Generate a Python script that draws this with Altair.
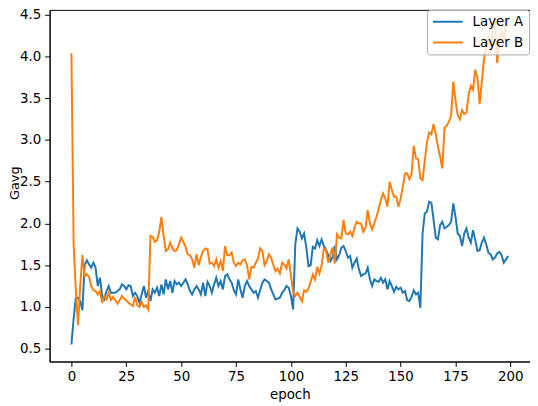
import altair as alt
import pandas as pd

epochs = list(range(200))

layer_a = [
    0.55, 0.86, 1.11, 1.11, 1.07, 0.96, 1.50, 1.56, 1.51, 1.47,
    1.53, 1.47, 1.25, 1.35, 1.13, 1.09, 1.19, 1.25, 1.17, 1.17,
    1.17, 1.19, 1.21, 1.27, 1.25, 1.21, 1.26, 1.25, 1.13, 1.17,
    1.13, 1.05, 1.15, 1.25, 1.11, 1.19, 1.07, 1.21, 1.17, 1.23,
    1.13, 1.27, 1.15, 1.33, 1.21, 1.31, 1.17, 1.31, 1.27, 1.29,
    1.25, 1.29, 1.33, 1.27, 1.19, 1.15, 1.21, 1.25, 1.21, 1.15,
    1.29, 1.13, 1.30, 1.25, 1.17, 1.27, 1.35, 1.25, 1.31, 1.21,
    1.37, 1.39, 1.33, 1.29, 1.20, 1.15, 1.33, 1.21, 1.11, 1.25,
    1.31, 1.25, 1.21, 1.17, 1.19, 1.11, 1.20, 1.29, 1.33, 1.31,
    1.29, 1.21, 1.15, 1.09, 1.10, 1.11, 1.17, 1.20, 1.25, 1.23,
    1.13, 0.97, 1.75, 1.94, 1.90, 1.82, 1.88, 1.72, 1.49, 1.50,
    1.72, 1.70, 1.80, 1.73, 1.81, 1.73, 1.69, 1.62, 1.55, 1.60,
    1.73, 1.57, 1.62, 1.71, 1.73, 1.67, 1.59, 1.61, 1.47, 1.53,
    1.58, 1.45, 1.37, 1.39, 1.40, 1.47, 1.33, 1.25, 1.33, 1.31,
    1.30, 1.35, 1.29, 1.33, 1.21, 1.31, 1.25, 1.18, 1.24, 1.21,
    1.23, 1.17, 1.19, 1.08, 1.07, 1.12, 1.20, 1.15, 1.17, 0.99,
    1.88, 2.12, 2.14, 2.26, 2.25, 2.05, 1.83, 1.81, 1.98, 2.02,
    1.94, 1.96, 1.98, 2.02, 2.24, 2.08, 1.88, 1.85, 1.73, 1.88,
    1.94, 1.83, 1.77, 1.92, 1.80, 1.67, 1.68, 1.77, 1.83, 1.75,
    1.65, 1.63, 1.57, 1.59, 1.64, 1.66, 1.62, 1.53, 1.57, 1.61,
]

layer_b = [
    4.04, 1.75, 1.20, 0.78, 1.25, 1.62, 1.37, 1.39, 1.36, 1.25,
    1.20, 1.19, 1.15, 1.19, 1.05, 1.13, 1.09, 1.17, 1.08, 1.12,
    1.08, 1.04, 1.08, 1.13, 1.10, 1.08, 1.05, 1.03, 1.01, 1.12,
    1.02, 1.00, 1.06, 1.00, 1.02, 0.97, 1.85, 1.84, 1.78, 1.80,
    1.90, 2.08, 1.85, 1.67, 1.69, 1.77, 1.70, 1.67, 1.68, 1.75,
    1.83, 1.78, 1.72, 1.63, 1.62, 1.57, 1.47, 1.63, 1.50, 1.60,
    1.67, 1.70, 1.69, 1.52, 1.53, 1.49, 1.57, 1.47, 1.55, 1.43,
    1.73, 1.62, 1.62, 1.65, 1.53, 1.49, 1.53, 1.51, 1.56, 1.57,
    1.50, 1.33, 1.48, 1.47, 1.53, 1.58, 1.70, 1.67, 1.50, 1.55,
    1.63, 1.59, 1.50, 1.43, 1.46, 1.40, 1.53, 1.51, 1.46, 1.57,
    1.38, 1.18, 1.13, 1.17, 1.12, 1.07, 1.20, 1.18, 1.22, 1.30,
    1.39, 1.33, 1.48, 1.40, 1.50, 1.70, 1.68, 1.53, 1.63, 1.71,
    1.52, 1.87, 1.83, 1.82, 2.04, 1.88, 1.87, 1.90, 1.85, 1.95,
    2.02, 2.00, 2.00, 1.90, 1.95, 2.16, 2.00, 1.93, 2.00, 2.08,
    2.18, 2.28, 2.36, 2.30, 2.20, 2.50, 2.40, 2.32, 2.32, 2.20,
    2.30, 2.44, 2.60, 2.60, 2.53, 2.60, 2.93, 2.78, 2.77, 2.54,
    2.52, 2.75, 2.97, 3.09, 3.07, 3.19, 3.07, 2.92, 2.80, 2.66,
    3.15, 3.17, 3.22, 3.29, 3.70, 3.47, 3.30, 3.25, 3.36, 3.31,
    3.33, 3.55, 3.65, 3.60, 3.84, 3.75, 3.43, 3.70, 3.98, 4.10,
    4.25, 4.05, 4.35, 4.46, 3.92, 4.20, 4.30, 4.20, 4.40, 4.35,
]

series_names = ["Layer A", "Layer B"]
series_colors = ["#1f77b4", "#ff7f0e"]
x_ticks = [0, 25, 50, 75, 100, 125, 150, 175, 200]
y_ticks = [0.5, 1.0, 1.5, 2.0, 2.5, 3.0, 3.5, 4.0, 4.5]

df = pd.DataFrame({
    "epoch": epochs + epochs,
    "Gavg": layer_a + layer_b,
    "series": [series_names[0]] * len(epochs) + [series_names[1]] * len(epochs),
})

FONT = "DejaVu Sans"
FS = 13.5

chart = alt.Chart(df).mark_line(strokeWidth=2, clip=True).encode(
    x=alt.X(
        "epoch:Q",
        scale=alt.Scale(domain=[-9.95, 208.95], nice=False, zero=False),
        axis=alt.Axis(values=x_ticks, title="epoch", grid=False, format="d",
                      tickSize=5, labelPadding=3, titleBaseline="alphabetic",
                      titleY=37),
    ),
    y=alt.Y(
        "Gavg:Q",
        scale=alt.Scale(domain=[0.346, 4.559], nice=False, zero=False),
        axis=alt.Axis(values=y_ticks, title="Gavg", grid=False, format=".1f",
                      tickSize=5, labelPadding=4, titleX=-35, titleY=174.5,
                      titleBaseline="middle", titleAlign="center",
                      titleFontSize=13),
    ),
    color=alt.Color(
        "series:N",
        scale=alt.Scale(domain=series_names, range=series_colors),
        legend=alt.Legend(
            title=None, orient="none", legendX=381, legendY=0,
            symbolType="stroke", symbolSize=900, symbolStrokeWidth=2,
            clipHeight=14, rowPadding=7, padding=5, labelOffset=9,
            labelFont=FONT, labelFontSize=FS, labelColor="black",
            fillColor="rgba(255,255,255,0.8)", strokeColor="#aaaaaa",
            cornerRadius=3,
        ),
    ),
).properties(
    width=485,
    height=355,
    autosize="none",
    padding={"left": 42, "top": 0, "right": 0, "bottom": 40},
).configure_view(
    stroke="black", strokeWidth=1
).configure_axis(
    domainColor="black", domainWidth=1, tickColor="black", tickWidth=1,
    labelColor="black", titleColor="black", labelFont=FONT, titleFont=FONT,
    labelFontSize=FS, titleFontSize=FS, titleFontWeight="normal",
)

chart.save("out.html", embed_options={"renderer": "svg", "actions": False})
